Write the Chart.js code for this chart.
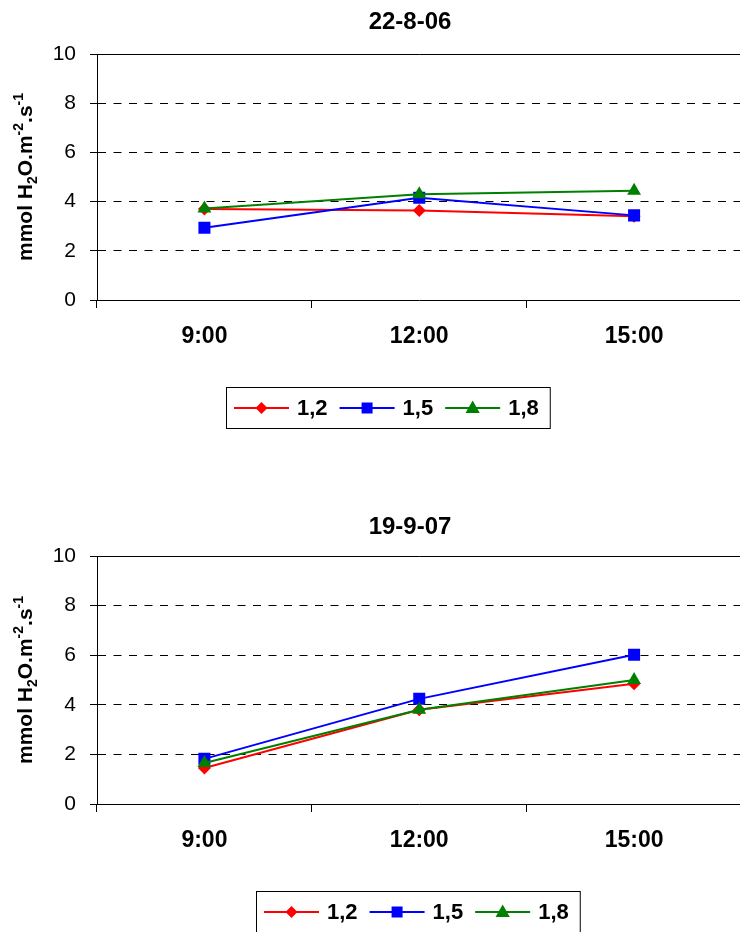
<!DOCTYPE html>
<html>
<head>
<meta charset="utf-8">
<script src="https://cdn.jsdelivr.net/npm/chart.js@4.4.1/dist/chart.umd.min.js"></script>
<style>
  html, body { margin: 0; padding: 0; background: #fff; overflow: hidden; width: 740px; height: 932px; }
  canvas { display: block; }
</style>
</head>
<body>
<canvas id="chartTop" width="750" height="466"></canvas>
<canvas id="chartBottom" width="750" height="466"></canvas>
<script>
// categories and series names
const times = ['9:00', '12:00', '15:00'];
const seriesNames = ['1,2', '1,5', '1,8'];

// 22-8-06
const aug06_12 = [3.70, 3.64, 3.40];
const aug06_15 = [2.94, 4.16, 3.44];
const aug06_18 = [3.72, 4.30, 4.44];

// 19-9-07
const sep07_12 = [1.45, 3.80, 4.85];
const sep07_15 = [1.82, 4.24, 6.02];
const sep07_18 = [1.65, 3.80, 5.00];

// y axis ticks
const yMin = 0;
const yMax = 10;
const yStep = 2;

const FONT = "'Liberation Sans', Arial, sans-serif";
const colors = ['#ff0000', '#0000ff', '#008000'];
const styles = ['rectRot', 'rect', 'triangle'];
const radii = [6.5, 8.5, 8];

// small marker drawer for the boxed legend
function drawMarker(ctx, style, x, y, r, color) {
    ctx.fillStyle = color;
    ctx.beginPath();
    if (style === 'rectRot') {
        ctx.moveTo(x, y - r);
        ctx.lineTo(x + r, y);
        ctx.lineTo(x, y + r);
        ctx.lineTo(x - r, y);
    } else if (style === 'rect') {
        ctx.rect(x - r, y - r, 2 * r, 2 * r);
    } else {
        ctx.moveTo(x, y - r);
        ctx.lineTo(x + r * 0.95, y + r * 0.65);
        ctx.lineTo(x - r * 0.95, y + r * 0.65);
    }
    ctx.closePath();
    ctx.fill();
}

// y axis title with sub / superscripts
function drawYTitle(ctx, cx, cy) {
    const big = 21, small = 14;
    const parts = [
        ['mmol H', big, 0],
        ['2', small, 5],
        ['O.m', big, 0],
        ['-2', small, -9],
        ['.s', big, 0],
        ['-1', small, -9]
    ];
    ctx.save();
    ctx.translate(cx, cy);
    ctx.rotate(-Math.PI / 2);
    ctx.fillStyle = '#000';
    ctx.textBaseline = 'alphabetic';
    ctx.textAlign = 'left';
    let total = 0;
    parts.forEach(p => {
        ctx.font = 'bold ' + p[1] + 'px ' + FONT;
        total += ctx.measureText(p[0]).width;
    });
    let x = -total / 2;
    parts.forEach(p => {
        ctx.font = 'bold ' + p[1] + 'px ' + FONT;
        ctx.fillText(p[0], x, 7.5 + p[2]);
        x += ctx.measureText(p[0]).width;
    });
    ctx.restore();
}

function makeChart(id, title, values, lay) {
    const decor = {
        id: 'decor',
        afterDraw(chart) {
            const ctx = chart.ctx;
            const area = chart.chartArea;
            ctx.save();
            // title
            ctx.fillStyle = '#000';
            ctx.font = 'bold 24px ' + FONT;
            ctx.textAlign = 'center';
            ctx.textBaseline = 'middle';
            ctx.fillText(title, 410, lay.titleY);

            drawYTitle(ctx, 24.5, (area.top + area.bottom) / 2);

            // legend with a frame
            ctx.font = 'bold 22px ' + FONT;
            ctx.textAlign = 'left';
            let x = lay.legendLeft + 8;
            const ty = lay.legendTop + 21;
            seriesNames.forEach((name, i) => {
                ctx.strokeStyle = colors[i];
                ctx.lineWidth = 2;
                ctx.beginPath();
                ctx.moveTo(x, ty);
                ctx.lineTo(x + 55, ty);
                ctx.stroke();
                drawMarker(ctx, styles[i], x + 27.5, ty, [6, 5.5, 7.5][i], colors[i]);
                ctx.fillStyle = '#000';
                ctx.fillText(name, x + 63, ty + 1);
                x += 63 + ctx.measureText(name).width + 12;
            });
            const right = x - 12 + 11;
            ctx.strokeStyle = '#000';
            ctx.lineWidth = 1;
            ctx.strokeRect(lay.legendLeft + 0.5, lay.legendTop + 0.5, right - lay.legendLeft, 41);
            ctx.restore();
        }
    };

    const datasets = values.map((v, i) => ({
        label: seriesNames[i],
        data: v,
        borderColor: colors[i],
        backgroundColor: colors[i],
        pointStyle: styles[i],
        pointRadius: radii[i],
        pointHoverRadius: radii[i],
        pointBorderWidth: 0,
        borderWidth: 2,
        tension: 0,
        order: 2 - i
    }));

    return new Chart(document.getElementById(id), {
        type: 'line',
        data: { labels: times, datasets: datasets },
        options: {
            responsive: false,
            animation: false,
            events: [],
            layout: {
                padding: { top: lay.top, bottom: 466 - lay.top - lay.plotH - 60, left: 0, right: 6 }
            },
            plugins: {
                legend: { display: false },
                title: { display: false },
                tooltip: { enabled: false }
            },
            scales: {
                x: {
                    offset: true,
                    grid: { offset: true, drawOnChartArea: false, color: '#000', tickLength: 8 },
                    border: { color: '#000', width: 1 },
                    ticks: { color: '#000', padding: 15, font: { family: FONT, size: 23, weight: 'bold' } },
                    afterFit: s => { s.height = 60; }
                },
                y: {
                    min: yMin,
                    max: yMax,
                    ticks: { stepSize: yStep, color: '#000', padding: 14, font: { family: FONT, size: 21 } },
                    grid: {
                        color: '#000',
                        lineWidth: 1,
                        tickLength: 7,
                        tickBorderDash: []
                    },
                    border: {
                        color: '#000',
                        width: 1,
                        // dashed grid lines, solid top line and axis
                        dash: c => (c.tick && c.tick.value !== yMax) ? [8, 7.5] : []
                    },
                    afterFit: s => { s.width = 97; }
                }
            }
        },
        plugins: [decor]
    });
}

makeChart('chartTop', '22-8-06', [aug06_12, aug06_15, aug06_18],
    { top: 54, plotH: 246, titleY: 22, legendLeft: 226, legendTop: 387 });
makeChart('chartBottom', '19-9-07', [sep07_12, sep07_15, sep07_18],
    { top: 90, plotH: 248, titleY: 61, legendLeft: 256, legendTop: 425 });
</script>
</body>
</html>
